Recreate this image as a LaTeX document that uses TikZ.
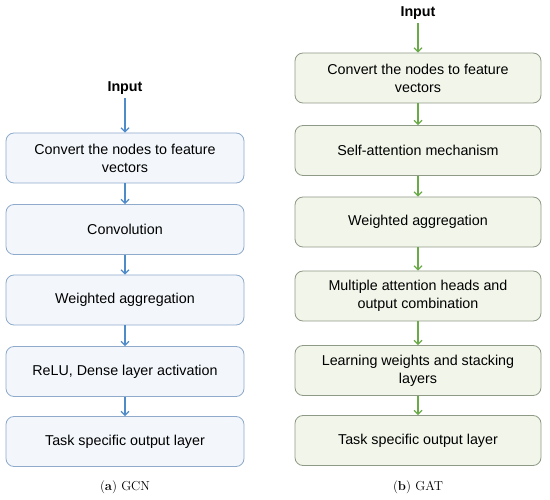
\documentclass[tikz,border=0pt]{standalone}
\usepackage{fontspec}
\newfontfamily\boxfont{Liberation Sans}
\usetikzlibrary{arrows.meta}
\definecolor{gcnfill}{HTML}{F3F7FB}
\definecolor{gcnline}{HTML}{8FAACB}
\definecolor{gcnarrow}{HTML}{4F8AC9}
\definecolor{gatfill}{HTML}{F2F6EA}
\definecolor{gatline}{HTML}{8E9A86}
\definecolor{gatarrow}{HTML}{6AAA48}

\begin{document}
\begin{tikzpicture}[x=1pt, y=-1pt,
  stage/.style={draw, rounded corners=8pt, line width=0.8pt, minimum height=50pt,
    text width=210pt, align=flush center, inner sep=2pt, font=\boxfont\fontsize{14.3}{18}\selectfont},
  gcnbox/.style={stage, fill=gcnfill, draw=gcnline, minimum width=238pt},
  gatbox/.style={stage, fill=gatfill, draw=gatline, minimum width=246pt},
  inlabel/.style={font=\boxfont\bfseries\fontsize{14.3}{16.5}\selectfont},
  flow/.style={line width=1.2pt, -{Straight Barb[length=4pt,width=8pt]}},
  caption/.style={font=\fontsize{13}{15}\selectfont}]
\useasboundingbox (0,0) rectangle (550,500);
% left column (GCN), centre x=125
\node[inlabel] (gin) at (125,88) {Input};
\node[gcnbox] (g1) at (125,158) {Convert the nodes to feature vectors};
\node[gcnbox] (g2) at (125,229.5) {Convolution};
\node[gcnbox] (g3) at (125,300) {Weighted aggregation};
\node[gcnbox] (g4) at (125,371.5) {ReLU, Dense layer activation};
\node[gcnbox] (g5) at (125,441.5) {Task specific output layer};
\node[caption] (gcap) at (125,487) {(\textbf{a}) GCN};
\foreach \a/\b in {gin/g1, g1/g2, g2/g3, g3/g4, g4/g5}
  \draw[flow, gcnarrow] (\a) -- (\b);
% right column (GAT), centre x=418
\node[inlabel] (ain) at (418,13) {Input};
\node[gatbox] (a1) at (418,78) {Convert the nodes to feature vectors};
\node[gatbox] (a2) at (418,150.5) {Self-attention mechanism};
\node[gatbox] (a3) at (418,222) {Weighted aggregation};
\node[gatbox] (a4) at (418,296) {Multiple attention heads and output combination};
\node[gatbox] (a5) at (418,370.5) {Learning weights and stacking layers};
\node[gatbox] (a6) at (418,440.5) {Task specific output layer};
\node[caption] (acap) at (418,487) {(\textbf{b}) GAT};
\foreach \a/\b in {ain/a1, a1/a2, a2/a3, a3/a4, a4/a5, a5/a6}
  \draw[flow, gatarrow] (\a) -- (\b);
\end{tikzpicture}
\end{document}
